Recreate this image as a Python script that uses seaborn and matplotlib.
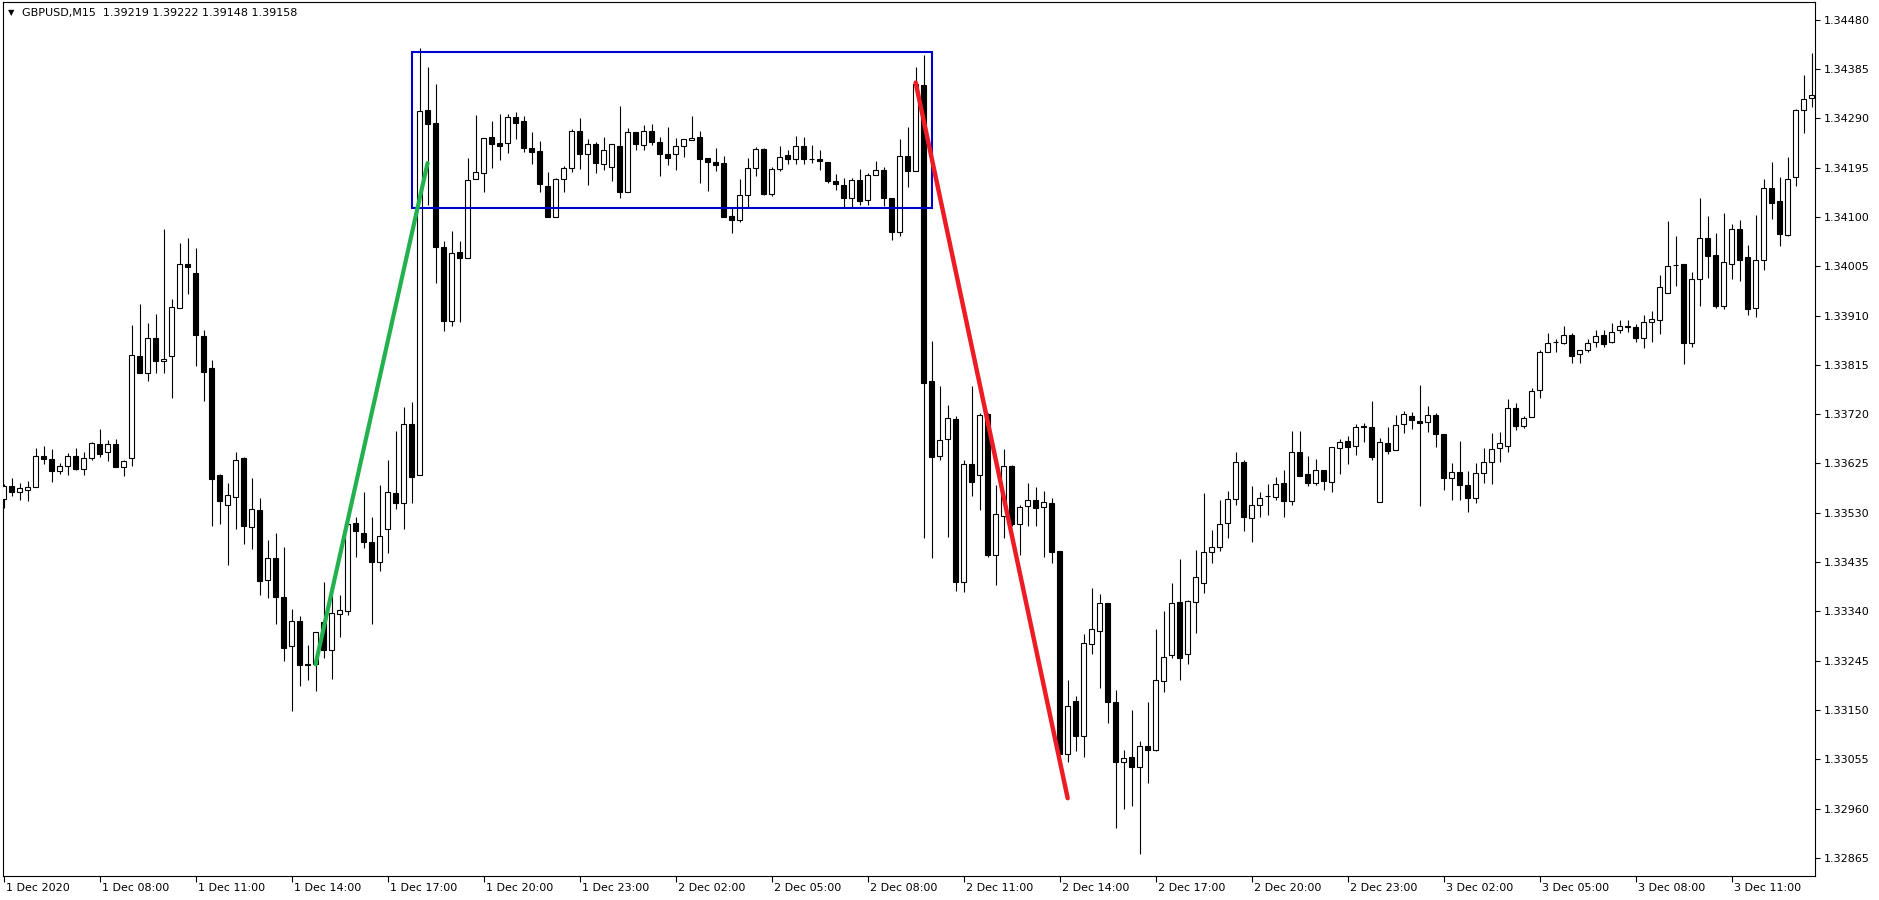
import numpy as np
import pandas as pd
import seaborn as sns
import matplotlib
matplotlib.use("Agg")
import matplotlib.pyplot as plt
import matplotlib.transforms as mtransforms
from matplotlib.patches import Rectangle

# GBPUSD M15 bars starting 1 Dec 2020 05:00, prices in points (1e-5)
open_pts = [
    133557, 133582, 133571, 133574, 133580, 133640, 133634, 133611, 133620, 133640,
    133614, 133636, 133663, 133647, 133663, 133619, 133635, 133832, 133799, 133867,
    133822, 133832, 133925, 134010, 133993, 133871, 133810, 133602, 133545, 133560,
    133635, 133503, 133536, 133400, 133443, 133368, 133274, 133321, 133238, 133239,
    133320, 133265, 133335, 133341, 133511, 133492, 133473, 133436, 133498, 133568,
    133549, 133702, 133602, 134307, 134282, 134042, 133900, 134032, 134021, 134173,
    134185, 134254, 134242, 134242, 134292, 134285, 134233, 134228, 134160, 134101,
    134173, 134194, 134266, 134221, 134240, 134202, 134196, 134237, 134149, 134264,
    134239, 134266, 134245, 134221, 134221, 134237, 134248, 134254, 134213, 134206,
    134204, 134102, 134095, 134142, 134194, 134231, 134145, 134192, 134219, 134212,
    134237, 134212, 134212, 134206, 134169, 134162, 134136, 134171, 134133, 134181,
    134190, 134136, 134072, 134217, 134188, 134355, 133784, 133639, 133672, 133711,
    133396, 133624, 133603, 133720, 133448, 133523, 133621, 133508, 133543, 133554,
    133541, 133549, 133457, 133065, 133168, 133099, 133277, 133302, 133356, 133165,
    133050, 133059, 133041, 133080, 133072, 133205, 133256, 133358, 133258, 133358,
    133394, 133454, 133464, 133510, 133556, 133628, 133519, 133545, 133562, 133560,
    133587, 133552, 133647, 133604, 133587, 133613, 133590, 133655, 133669, 133658,
    133697, 133695, 133550, 133664, 133651, 133701, 133716, 133707, 133705, 133718,
    133682, 133597, 133608, 133583, 133558, 133606, 133628, 133654, 133658, 133732,
    133698, 133714, 133766, 133840, 133859, 133858, 133872, 133836, 133843, 133859,
    133872, 133859, 133883, 133889, 133888, 133867, 133897, 133902, 133953, 134008,
    134009, 133857, 133980, 134059, 134027, 133928, 134010, 134077, 134023, 133924,
    134017, 134156, 134131, 134066, 134177, 134306, 134329,
]
high_pts = [
    133585, 133598, 133588, 133591, 133655, 133659, 133652, 133626, 133645, 133654,
    133647, 133666, 133692, 133671, 133673, 133632, 133891, 133933, 133895, 133914,
    134077, 133942, 134050, 134060, 134041, 133883, 133825, 133605, 133587, 133648,
    133638, 133597, 133558, 133477, 133492, 133465, 133344, 133331, 133276, 133300,
    133397, 133397, 133372, 133530, 133522, 133570, 133522, 133583, 133631, 133688,
    133734, 133744, 134425, 134389, 134357, 134053, 134074, 134053, 134213, 134297,
    134252, 134285, 134298, 134299, 134302, 134294, 134264, 134246, 134187, 134175,
    134199, 134270, 134290, 134251, 134245, 134254, 134240, 134314, 134271, 134264,
    134278, 134280, 134254, 134273, 134252, 134250, 134295, 134266, 134213, 134233,
    134218, 134117, 134174, 134214, 134235, 134233, 134196, 134237, 134230, 134257,
    134254, 134239, 134230, 134206, 134183, 134175, 134175, 134193, 134185, 134208,
    134197, 134136, 134251, 134273, 134389, 134413, 133861, 133775, 133738, 133716,
    133632, 133775, 133722, 133722, 133584, 133653, 133623, 133545, 133588, 133580,
    133572, 133558, 133457, 133208, 133176, 133297, 133385, 133374, 133356, 133189,
    133073, 133149, 133091, 133166, 133306, 133340, 133395, 133441, 133362, 133459,
    133568, 133497, 133555, 133572, 133647, 133632, 133582, 133570, 133586, 133599,
    133613, 133688, 133688, 133640, 133634, 133613, 133657, 133673, 133678, 133701,
    133704, 133746, 133674, 133695, 133719, 133726, 133724, 133777, 133736, 133722,
    133682, 133626, 133669, 133611, 133626, 133654, 133683, 133685, 133750, 133741,
    133717, 133771, 133844, 133877, 133865, 133890, 133876, 133843, 133865, 133883,
    133883, 133895, 133901, 133901, 133894, 133911, 133919, 133988, 134093, 134064,
    134009, 133994, 134136, 134102, 134069, 134107, 134087, 134094, 134046, 134104,
    134174, 134206, 134178, 134215, 134308, 134374, 134416,
]
low_pts = [
    133539, 133562, 133555, 133552, 133579, 133624, 133589, 133605, 133602, 133612,
    133602, 133631, 133637, 133629, 133618, 133600, 133621, 133799, 133784, 133799,
    133799, 133752, 133925, 133951, 133812, 133745, 133504, 133508, 133430, 133498,
    133469, 133460, 133371, 133365, 133316, 133245, 133148, 133197, 133208, 133186,
    133251, 133209, 133291, 133333, 133444, 133463, 133316, 133418, 133453, 133538,
    133499, 133549, 133602, 134124, 133973, 133880, 133890, 133898, 134021, 134173,
    134149, 134194, 134210, 134224, 134250, 134226, 134202, 134149, 134101, 134101,
    134149, 134186, 134192, 134161, 134184, 134190, 134170, 134136, 134149, 134230,
    134230, 134239, 134180, 134201, 134190, 134215, 134248, 134165, 134151, 134188,
    134101, 134069, 134091, 134120, 134180, 134143, 134141, 134189, 134203, 134203,
    134203, 134204, 134190, 134165, 134153, 134120, 134120, 134124, 134124, 134181,
    134122, 134055, 134064, 134157, 134188, 133481, 133443, 133632, 133484, 133380,
    133378, 133562, 133536, 133445, 133390, 133481, 133504, 133449, 133504, 133505,
    133444, 133434, 133063, 133050, 133070, 133060, 133258, 133193, 133125, 132922,
    132960, 132965, 132872, 133009, 133070, 133184, 133251, 133208, 133239, 133298,
    133376, 133434, 133457, 133482, 133545, 133494, 133473, 133521, 133526, 133555,
    133521, 133545, 133600, 133581, 133584, 133573, 133570, 133605, 133624, 133642,
    133667, 133631, 133550, 133644, 133651, 133683, 133692, 133544, 133685, 133656,
    133573, 133555, 133554, 133531, 133548, 133588, 133585, 133627, 133648, 133690,
    133694, 133714, 133751, 133840, 133839, 133856, 133818, 133818, 133840, 133849,
    133850, 133857, 133876, 133879, 133860, 133847, 133859, 133875, 133953, 133968,
    133816, 133849, 133929, 133983, 133924, 133923, 133981, 133976, 133911, 133908,
    133997, 134097, 134045, 134064, 134159, 134261, 134313,
]
close_pts = [
    133582, 133571, 133577, 133580, 133640, 133633, 133610, 133620, 133640, 133614,
    133636, 133665, 133643, 133663, 133618, 133630, 133834, 133799, 133867, 133822,
    133826, 133926, 134009, 134003, 133872, 133802, 133595, 133552, 133564, 133632,
    133505, 133538, 133398, 133443, 133368, 133270, 133321, 133236, 133237, 133300,
    133266, 133337, 133343, 133509, 133494, 133473, 133436, 133486, 133571, 133549,
    133701, 133599, 134305, 134280, 134043, 133900, 134030, 134021, 134172, 134186,
    134252, 134240, 134236, 134292, 134282, 134233, 134226, 134163, 134101, 134173,
    134194, 134266, 134221, 134240, 134204, 134230, 134240, 134149, 134264, 134240,
    134266, 134244, 134221, 134213, 134237, 134250, 134253, 134211, 134206, 134201,
    134101, 134095, 134142, 134194, 134231, 134145, 134192, 134215, 134212, 134237,
    134211, 134212, 134208, 134170, 134163, 134136, 134171, 134130, 134181, 134190,
    134136, 134072, 134217, 134188, 134357, 133780, 133637, 133671, 133712, 133396,
    133624, 133590, 133718, 133448, 133527, 133621, 133508, 133541, 133554, 133540,
    133551, 133455, 133065, 133158, 133099, 133279, 133306, 133356, 133166, 133050,
    133057, 133041, 133080, 133072, 133208, 133252, 133356, 133251, 133360, 133406,
    133454, 133464, 133508, 133556, 133628, 133521, 133545, 133558, 133562, 133585,
    133552, 133647, 133601, 133587, 133613, 133592, 133657, 133666, 133656, 133695,
    133695, 133637, 133666, 133650, 133699, 133720, 133708, 133704, 133718, 133682,
    133597, 133608, 133583, 133558, 133606, 133628, 133653, 133664, 133732, 133698,
    133712, 133764, 133840, 133857, 133859, 133872, 133833, 133843, 133858, 133870,
    133856, 133878, 133890, 133890, 133867, 133897, 133903, 133966, 134005, 134007,
    133857, 133980, 134059, 134024, 133929, 134013, 134077, 134018, 133922, 134017,
    134156, 134128, 134068, 134173, 134307, 134327, 134335,
]

time_labels = [
    "1 Dec 2020", "1 Dec 08:00", "1 Dec 11:00", "1 Dec 14:00", "1 Dec 17:00",
    "1 Dec 20:00", "1 Dec 23:00", "2 Dec 02:00", "2 Dec 05:00", "2 Dec 08:00",
    "2 Dec 11:00", "2 Dec 14:00", "2 Dec 17:00", "2 Dec 20:00", "2 Dec 23:00",
    "3 Dec 02:00", "3 Dec 05:00", "3 Dec 08:00", "3 Dec 11:00",
]
bars_per_label = 12  # one label every 3 hours of M15 bars

price_ticks = [
    1.34480, 1.34385, 1.34290, 1.34195, 1.34100, 1.34005, 1.33910, 1.33815, 1.33720,
    1.33625, 1.33530, 1.33435, 1.33340, 1.33245, 1.33150, 1.33055, 1.32960, 1.32865,
]

header = "GBPUSD,M15  1.39219 1.39222 1.39148 1.39158"

# drawn objects (bar index, price)
range_box_bars = [51, 116]
range_box_prices = [1.34118, 1.34419]
green_line_bars = [39, 53]
green_line_prices = [1.33238, 1.34204]
red_line_bars = [114, 133]
red_line_prices = [1.34359, 1.32980]

df = pd.DataFrame({
    "open": np.array(open_pts) / 1e5,
    "high": np.array(high_pts) / 1e5,
    "low": np.array(low_pts) / 1e5,
    "close": np.array(close_pts) / 1e5,
})
df["bar"] = np.arange(len(df))
df["bull"] = df["close"] >= df["open"]

sns.set_theme(style="white")
plt.rcParams["font.family"] = ["DejaVu Sans"]

W, H = 1879, 900
fig = plt.figure(figsize=(W / 100, H / 100), dpi=100)
fig.patch.set_facecolor("white")
left, right, top, bottom = 2.7, 1815, 1.7, 876
ax = fig.add_axes([left / W, 1 - bottom / H, (right - left) / W, (bottom - top) / H])
ax.set_facecolor("white")

# wicks
ax.vlines(df["bar"], df["low"], df["high"], color="black", linewidth=0.8, zorder=2)
# bodies
body_low = df[["open", "close"]].min(axis=1)
body_h = np.maximum((df["close"] - df["open"]).abs(), 1e-6)
fills = np.where(df["bull"], "white", "black")
ax.bar(df["bar"], body_h, bottom=body_low, width=0.58, color=fills,
       edgecolor="black", linewidth=0.8, zorder=3)

# range rectangle
ax.add_patch(Rectangle((range_box_bars[0], range_box_prices[0]),
                       range_box_bars[1] - range_box_bars[0],
                       range_box_prices[1] - range_box_prices[0],
                       fill=False, edgecolor="#0000CD", linewidth=1.5, zorder=4))

# trend lines
sns.lineplot(x=green_line_bars, y=green_line_prices, ax=ax, color="#22B14C",
             linewidth=3, solid_capstyle="round", zorder=5)
sns.lineplot(x=red_line_bars, y=red_line_prices, ax=ax, color="#ED1C24",
             linewidth=3.2, solid_capstyle="round", zorder=5)

ax.set_xlim(-0.1, 226.4)
ax.set_ylim(1.32830, 1.34515)

for s in ax.spines.values():
    s.set_visible(True)
    s.set_color("black")
    s.set_linewidth(0.8)

ax.yaxis.tick_right()
ax.set_yticks(price_ticks)
ax.set_yticklabels([f"{p:.5f}" for p in price_ticks])
ax.set_xticks(np.arange(len(time_labels)) * bars_per_label)
ax.set_xticklabels(time_labels, ha="left")
ax.tick_params(axis="y", direction="out", length=3.5, width=0.8, pad=2.5,
               labelsize=8, colors="black", right=True, left=False)
ax.tick_params(axis="x", direction="out", length=4, width=0.8, pad=1,
               labelsize=8, colors="black", bottom=True)
offset = mtransforms.ScaledTranslation(2 / 100, 0, fig.dpi_scale_trans)
for lab in ax.get_xticklabels():
    lab.set_transform(lab.get_transform() + offset)
ax.set_xlabel("")
ax.set_ylabel("")
ax.grid(False)

# chart header
fig.text(11 / W, 1 - 13 / H, "\u25BC", fontsize=6, color="black", ha="center", va="center")
fig.text(22 / W, 1 - 13 / H, header, fontsize=8, color="black", ha="left", va="center")

fig.savefig("out.png", dpi=100, facecolor="white")
